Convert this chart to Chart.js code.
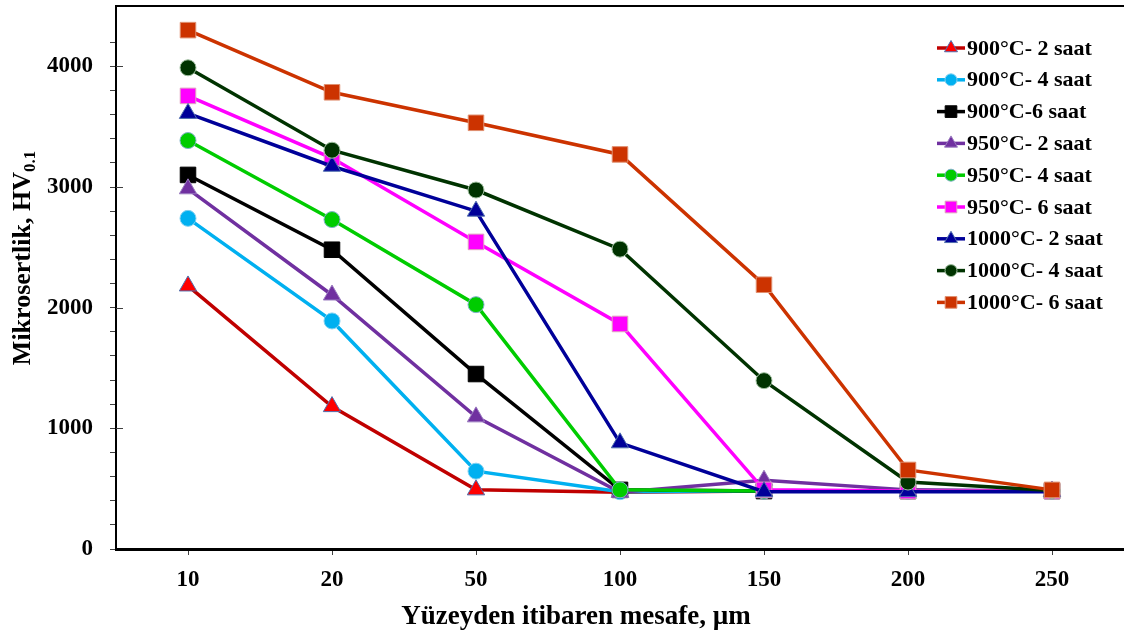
<!DOCTYPE html>
<html lang="tr">
<head>
  <meta charset="UTF-8">
  <title>Mikrosertlik - Yüzeyden mesafe</title>
  <style>
    html, body { margin: 0; padding: 0; background: #fff; }
    #kutu { width: 1124px; height: 636px; position: relative; }
  </style>
  <script src="https://cdn.jsdelivr.net/npm/chart.js"></script>
</head>
<body>
<div id="kutu"><canvas id="sertlikChart"></canvas></div>

<script>
  // Yüzeyden mesafe (µm)
  const mesafe = ['10', '20', '50', '100', '150', '200', '250'];

  // Mikrosertlik değerleri, HV0.1
  const t900_2 = [2180, 1180, 490, 470, 480, 480, 480];
  const t900_4 = [2740, 1890, 645, 475, 480, 480, 480];
  const t900_6 = [3100, 2480, 1450, 490, 480, 480, 480];
  const t950_2 = [2985, 2105, 1095, 470, 570, 490, 480];
  const t950_4 = [3385, 2730, 2025, 490, 480, 480, 480];
  const t950_6 = [3755, 3240, 2545, 1865, 490, 480, 480];
  const t1000_2 = [3610, 3172, 2800, 880, 475, 475, 475];
  const t1000_4 = [3988, 3305, 2975, 2485, 1395, 555, 485];
  const t1000_6 = [4300, 3785, 3532, 3270, 2190, 655, 490];

  const etiketler = ['900°C- 2 saat', '900°C- 4 saat', '900°C-6 saat', '950°C- 2 saat', '950°C- 4 saat',
                     '950°C- 6 saat', '1000°C- 2 saat', '1000°C- 4 saat', '1000°C- 6 saat'];

  const YAZI = '"Liberation Serif", "Times New Roman", serif';

  function seri(i, veri, cizgi, dolgu, kenar, sekil, r) {
    return {
      label: etiketler[i],
      data: veri,
      borderColor: cizgi,
      backgroundColor: dolgu,
      pointBackgroundColor: dolgu,
      pointBorderColor: kenar,
      pointBorderWidth: 1,
      pointStyle: sekil,
      pointRadius: r,
      borderWidth: 3.5,
      tension: 0,
      order: 8 - i   // sonraki seriler üstte çizilsin
    };
  }

  const seriler = [
    seri(0, t900_2, '#C00000', '#FF0000', '#4F6EAE', 'triangle', 10),
    seri(1, t900_4, '#00B0F0', '#00B0F0', '#7FCFF0', 'circle', 8),
    seri(2, t900_6, '#000000', '#000000', '#000000', 'rect', 11),
    seri(3, t950_2, '#7030A0', '#7030A0', '#9B7CC0', 'triangle', 10),
    seri(4, t950_4, '#00CC00', '#00CC00', '#7FB0C8', 'circle', 8),
    seri(5, t950_6, '#FF00FF', '#FF00FF', '#E0A0C0', 'rect', 11),
    seri(6, t1000_2, '#000099', '#000099', '#4F6EAE', 'triangle', 10),
    seri(7, t1000_4, '#003300', '#003300', '#9FBF9F', 'circle', 8),
    seri(8, t1000_6, '#CC3300', '#CC3300', '#E09070', 'rect', 11)
  ];

  // Lejant işaretçisi
  function isaret(ctx, sekil, x, y, r, dolgu, kenar) {
    ctx.beginPath();
    if (sekil === 'circle') {
      ctx.arc(x, y, r, 0, Math.PI * 2);
    } else if (sekil === 'rect') {
      const s = r * Math.SQRT1_2;
      ctx.rect(x - s, y - s, 2 * s, 2 * s);
    } else {
      ctx.moveTo(x, y - r);
      ctx.lineTo(x + r * 0.866, y + r / 2);
      ctx.lineTo(x - r * 0.866, y + r / 2);
      ctx.closePath();
    }
    ctx.fillStyle = dolgu;
    ctx.fill();
    ctx.lineWidth = 1;
    ctx.strokeStyle = kenar;
    ctx.stroke();
  }

  const susleme = {
    id: 'susleme',
    afterDraw(chart) {
      const ctx = chart.ctx;
      const a = chart.chartArea;
      const y = chart.scales.y;
      ctx.save();

      // üst çerçeve ve alt eksenin sağ ucu
      ctx.strokeStyle = '#000';
      ctx.lineWidth = 2;
      ctx.beginPath();
      ctx.moveTo(a.left - 1, a.top);
      ctx.lineTo(chart.width, a.top);
      ctx.moveTo(a.left - 1, a.bottom + 1);
      ctx.lineTo(chart.width, a.bottom + 1);
      ctx.stroke();

      // ana çentiklerin iç kısmı
      ctx.strokeStyle = '#404040';
      ctx.lineWidth = 1;
      y.ticks.forEach(t => {
        if (t.value % 1000 === 0 && t.value > 0) {
          const py = Math.round(y.getPixelForValue(t.value)) + 0.5;
          ctx.beginPath();
          ctx.moveTo(a.left, py);
          ctx.lineTo(a.left + 7, py);
          ctx.stroke();
        }
      });

      // x ekseni başlığı
      ctx.fillStyle = '#000';
      ctx.font = 'bold 27px ' + YAZI;
      ctx.textAlign = 'center';
      ctx.textBaseline = 'alphabetic';
      ctx.fillText('Yüzeyden itibaren mesafe, µm', 576, 624);

      // y ekseni başlığı (alt simgeli)
      ctx.translate(30, 258);
      ctx.rotate(-Math.PI / 2);
      const ana = 'Mikrosertlik, HV';
      const alt = '0.1';
      ctx.font = 'bold 26px ' + YAZI;
      const w1 = ctx.measureText(ana).width;
      ctx.font = 'bold 17px ' + YAZI;
      const w2 = ctx.measureText(alt).width;
      const bas = -(w1 + w2) / 2;
      ctx.textAlign = 'left';
      ctx.font = 'bold 26px ' + YAZI;
      ctx.fillText(ana, bas, 0);
      ctx.font = 'bold 17px ' + YAZI;
      ctx.fillText(alt, bas + w1, 5);
      ctx.setTransform(1, 0, 0, 1, 0, 0);

      // lejant
      const lx = a.right - 187;
      chart.data.datasets.forEach((ds, i) => {
        const ly = a.top + 42 + i * 31.8;
        ctx.strokeStyle = ds.borderColor;
        ctx.lineWidth = 3.5;
        ctx.beginPath();
        ctx.moveTo(lx, ly);
        ctx.lineTo(lx + 28, ly);
        ctx.stroke();
        isaret(ctx, ds.pointStyle, lx + 14, ly, ds.pointRadius * 0.75, ds.pointBackgroundColor, ds.pointBorderColor);
        ctx.fillStyle = '#000';
        ctx.font = 'bold 22px ' + YAZI;
        ctx.textAlign = 'left';
        ctx.textBaseline = 'middle';
        ctx.fillText(ds.label, lx + 30, ly + 1);
      });
      ctx.restore();
    }
  };

  const ctxSertlik = document.getElementById('sertlikChart').getContext('2d');
  new Chart(ctxSertlik, {
    type: 'line',
    data: { labels: mesafe, datasets: seriler },
    options: {
      responsive: true,
      maintainAspectRatio: false,
      animation: false,
      layout: { autoPadding: false, padding: { top: 6, left: 0, right: 0, bottom: 0 } },
      plugins: {
        legend: { display: false },
        tooltip: { enabled: false }
      },
      scales: {
        x: {
          type: 'category',
          offset: true,
          grid: { offset: false, drawOnChartArea: false, tickLength: 6, color: '#404040' },
          border: { display: true, color: '#000', width: 2 },
          ticks: {
            color: '#000',
            padding: 11,
            font: { family: YAZI, size: 23, weight: 'bold' }
          },
          afterFit(scale) {
            scale.height = 87;
            scale.paddingLeft = 0;
            scale.paddingRight = 0;
          }
        },
        y: {
          min: 0,
          max: 4500,
          afterBuildTicks(scale) {
            scale.ticks = scale.ticks.filter(t => t.value % 200 === 0);
          },
          grid: { drawOnChartArea: false, tickLength: 6, color: '#404040' },
          border: { display: true, color: '#000', width: 2 },
          ticks: {
            stepSize: 200,
            autoSkip: false,
            color: '#000',
            padding: 17,
            font: { family: YAZI, size: 23, weight: 'bold' },
            callback: v => (v % 1000 === 0 ? v : '')
          },
          afterFit(scale) {
            scale.width = 116;
            scale.paddingTop = 0;
            scale.paddingBottom = 0;
          }
        }
      }
    },
    plugins: [susleme]
  });
</script>
</body>
</html>
